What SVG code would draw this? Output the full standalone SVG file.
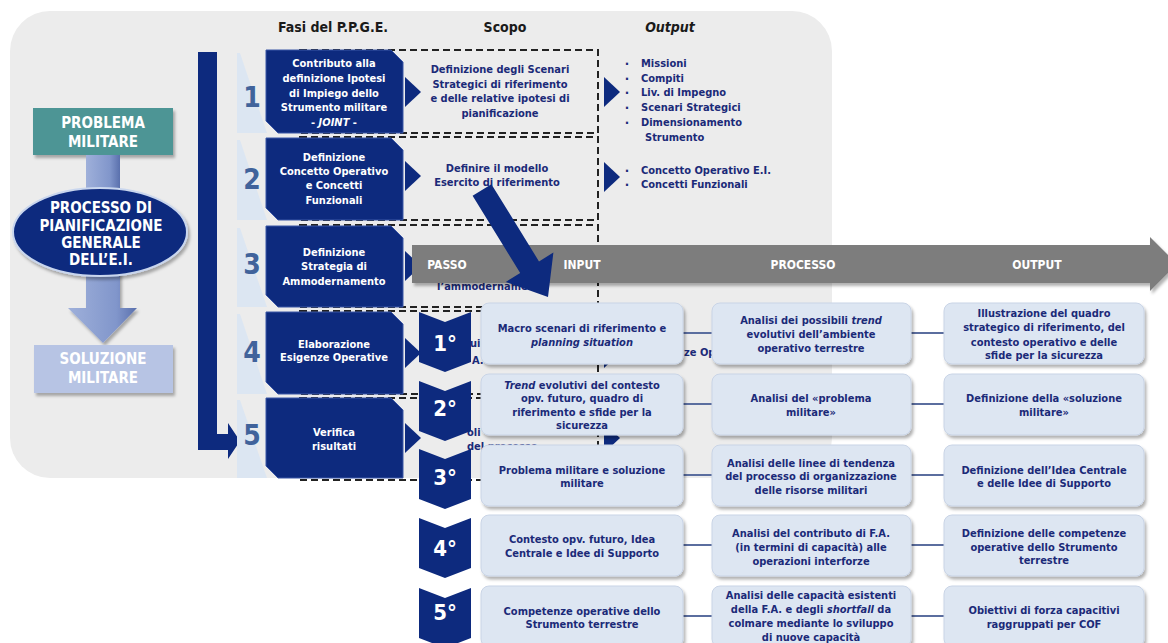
<svg xmlns="http://www.w3.org/2000/svg" width="1168" height="643" viewBox="0 0 1168 643">
<defs>
<style>
.f{font-family:"DejaVu Sans Condensed","DejaVu Sans",sans-serif;font-weight:bold}
.s{font-size:11px;text-anchor:middle}
.l{font-size:11px;text-anchor:start}
.nv{fill:#1b2a78}
.w{fill:#fff}
.hd{font-size:14px;fill:#1a1a1a;text-anchor:middle}
.num{font-size:28px;fill:#41639b;text-anchor:middle}
.big{font-size:15px;fill:#fff;text-anchor:middle}
.ph{fill:#0d2a7e;stroke:#3a56a6;stroke-width:1}
.nav{fill:#0d2a7e}
.wedge{fill:#dce6f2}
.dash{fill:none;stroke:#222;stroke-width:2;stroke-dasharray:7 4}
.box{fill:#dde6f2;stroke:#c9d4e6;stroke-width:1}
.cn{stroke:#5b6e9f;stroke-width:2;fill:none}
.chev{fill:#0d2a7e}
.clab{font-size:22px;fill:#fff;text-anchor:middle}
.th{font-size:12px;fill:#fff;text-anchor:middle}
.bul{font-size:13px;text-anchor:middle}
</style>
<filter id="sh" x="-10%" y="-10%" width="125%" height="140%">
<feDropShadow dx="2" dy="3" stdDeviation="1.5" flood-color="#000" flood-opacity="0.3"/>
</filter>
<linearGradient id="ga" x1="0" y1="0" x2="1" y2="0">
<stop offset="0" stop-color="#9fb0da"/>
<stop offset="0.7" stop-color="#8196cb"/>
<stop offset="1" stop-color="#5a70ad"/>
</linearGradient>
</defs>

<!-- background panel -->
<rect x="10" y="11" width="822" height="467" rx="40" fill="#ececec"/>

<!-- headers -->
<text class="f hd" x="333" y="32">Fasi del P.P.G.E.</text>
<text class="f hd" x="505" y="32">Scopo</text>
<text class="f hd" x="670" y="32" font-style="italic">Output</text>

<!-- left column -->
<g id="problema">
<rect x="33" y="108" width="140" height="47" fill="#4d9595" filter="url(#sh)"/>
<text class="f big" x="103" y="128">PROBLEMA</text>
<text class="f big" x="103" y="147">MILITARE</text>
</g>
<g id="stem">
<rect x="86" y="155" width="34" height="36" fill="url(#ga)"/>
</g>
<g id="downarrow">
<polygon points="86,270 120,270 120,308 137,308 103,343 68,308 86,308" fill="url(#ga)" filter="url(#sh)"/>
</g>
<g id="processo">
<ellipse cx="100" cy="232" rx="87" ry="44" fill="#0d2a7e" stroke="#c9d6ee" stroke-width="2" filter="url(#sh)"/>
<text class="f big" x="101" y="213">PROCESSO DI</text>
<text class="f big" x="101" y="231">PIANIFICAZIONE</text>
<text class="f big" x="101" y="248">GENERALE</text>
<text class="f big" x="101" y="265">DELL’E.I.</text>
</g>
<g id="soluzione">
<rect x="34" y="345" width="139" height="48" fill="#b7c4e4" filter="url(#sh)"/>
<text class="f big" x="103" y="364">SOLUZIONE</text>
<text class="f big" x="103" y="383">MILITARE</text>
</g>

<!-- vertical flow bar -->
<g id="flowbar">
<polygon class="nav" points="198,52 217,52 217,434 228,434 228,423 240,441 228,459 228,450 198,450"/>
</g>

<!-- wedges -->
<g id="wedges">
<polygon class="wedge" points="237,53 240,53 267,133 237,133"/>
<polygon class="wedge" points="237,140 240,140 267,220 237,220"/>
<polygon class="wedge" points="237,228 240,228 267,307 237,307"/>
<polygon class="wedge" points="237,314 240,314 267,394 237,394"/>
<polygon class="wedge" points="237,400 240,400 267,478 237,478"/>
</g>

<!-- dashed scope frames -->
<g id="scopeframes">
<rect class="dash" x="300" y="50" width="298" height="83"/>
<rect class="dash" x="300" y="137" width="298" height="83"/>
<rect class="dash" x="300" y="225" width="298" height="82"/>
<rect class="dash" x="300" y="311" width="298" height="83"/>
<rect class="dash" x="300" y="398" width="298" height="82"/>
</g>

<!-- phases -->
<g id="fase1">
<text class="f num" x="252" y="107">1</text>
<polygon class="ph" points="266,50 391,50 403,62 403,133 278,133 266,121"/>
<text class="f s w" x="334" y="67">Contributo alla</text>
<text class="f s w" x="334" y="82">definizione Ipotesi</text>
<text class="f s w" x="334" y="97">di Impiego dello</text>
<text class="f s w" x="334" y="111">Strumento militare</text>
<text class="f s w" x="334" y="126">- <tspan font-style="italic">JOINT</tspan> -</text>
<polygon class="nav" points="405,77 421,92 405,107"/>
</g>
<g id="fase2">
<text class="f num" x="252" y="189">2</text>
<polygon class="ph" points="266,138 391,138 403,150 403,220 278,220 266,208"/>
<text class="f s w" x="334" y="161">Definizione</text>
<text class="f s w" x="334" y="175">Concetto Operativo</text>
<text class="f s w" x="334" y="189">e Concetti</text>
<text class="f s w" x="334" y="204">Funzionali</text>
<polygon class="nav" points="405,161 421,176 405,191"/>
</g>
<g id="fase3">
<text class="f num" x="252" y="274">3</text>
<polygon class="ph" points="266,226 391,226 403,238 403,307 278,307 266,295"/>
<text class="f s w" x="334" y="256">Definizione</text>
<text class="f s w" x="334" y="270">Strategia di</text>
<text class="f s w" x="334" y="285">Ammodernamento</text>
<polygon class="nav" points="405,251 421,266 405,281"/>
</g>
<g id="fase4">
<text class="f num" x="252" y="362">4</text>
<polygon class="ph" points="266,312 391,312 403,324 403,394 278,394 266,382"/>
<text class="f s w" x="334" y="348">Elaborazione</text>
<text class="f s w" x="334" y="361">Esigenze Operative</text>
<polygon class="nav" points="405,338 421,353 405,368"/>
</g>
<g id="fase5">
<text class="f num" x="252" y="445">5</text>
<polygon class="ph" points="266,398 391,398 403,410 403,478 278,478 266,466"/>
<text class="f s w" x="334" y="436">Verifica</text>
<text class="f s w" x="334" y="450">risultati</text>
<polygon class="nav" points="405,423 421,438 405,453"/>
</g>

<!-- scope texts -->
<g id="scopo1">
<text class="f s nv" x="500" y="73">Definizione degli Scenari</text>
<text class="f s nv" x="500" y="88">Strategici di riferimento</text>
<text class="f s nv" x="500" y="102">e delle relative ipotesi di</text>
<text class="f s nv" x="500" y="117">pianificazione</text>
</g>
<g id="scopo2">
<text class="f s nv" x="497" y="172">Definire il modello</text>
<text class="f s nv" x="497" y="186">Esercito di riferimento</text>
</g>
<g id="scopofrag">
<text class="f l nv" x="437" y="290">l’ammodernamento</text>
<text class="f l nv" x="470" y="347">ui</text>
<text class="f l nv" x="472" y="364">A.</text>
<text class="f l nv" x="467" y="436">oli</text>
<text class="f l nv" x="467" y="450">del processo</text>
</g>

<!-- output column -->
<g id="output1">
<polygon class="nav" points="604,77 620,92 604,107"/>
<text class="f bul nv" x="627" y="68">·</text>
<text class="f l nv" x="641" y="67">Missioni</text>
<text class="f bul nv" x="627" y="83">·</text>
<text class="f l nv" x="641" y="82">Compiti</text>
<text class="f bul nv" x="627" y="97">·</text>
<text class="f l nv" x="641" y="96">Liv. di Impegno</text>
<text class="f bul nv" x="627" y="112">·</text>
<text class="f l nv" x="641" y="111">Scenari Strategici</text>
<text class="f bul nv" x="627" y="127">·</text>
<text class="f l nv" x="641" y="126">Dimensionamento</text>
<text class="f l nv" x="645" y="141">Strumento</text>
</g>
<g id="output2">
<polygon class="nav" points="604,162 620,177 604,192"/>
<text class="f bul nv" x="627" y="175">·</text>
<text class="f l nv" x="641" y="174">Concetto Operativo E.I.</text>
<text class="f bul nv" x="627" y="189">·</text>
<text class="f l nv" x="641" y="188">Concetti Funzionali</text>
</g>
<g id="output345">
<polygon class="nav" points="604,251 620,266 604,281"/>
<polygon class="nav" points="604,338 620,353 604,368"/>
<polygon class="nav" points="604,423 620,438 604,453"/>
<text class="f l nv" x="684" y="356">ze Op</text>
</g>

<!-- process table header arrow -->
<g id="tablehead">
<polygon points="412,245 1150,245 1150,237 1177,264 1150,291 1150,283 412,283" fill="#7d7d7d" filter="url(#sh)"/>
<text class="f th" x="447" y="269">PASSO</text>
<text class="f th" x="582" y="269">INPUT</text>
<text class="f th" x="803" y="269">PROCESSO</text>
<text class="f th" x="1037" y="269">OUTPUT</text>
</g>

<!-- connectors -->
<g id="connectors">
<line class="cn" x1="683" y1="333" x2="712" y2="333"/>
<line class="cn" x1="911" y1="333" x2="944" y2="333"/>
<line class="cn" x1="683" y1="404" x2="712" y2="404"/>
<line class="cn" x1="911" y1="404" x2="944" y2="404"/>
<line class="cn" x1="683" y1="475" x2="712" y2="475"/>
<line class="cn" x1="911" y1="475" x2="944" y2="475"/>
<line class="cn" x1="683" y1="545" x2="712" y2="545"/>
<line class="cn" x1="911" y1="545" x2="944" y2="545"/>
<line class="cn" x1="683" y1="616" x2="712" y2="616"/>
<line class="cn" x1="911" y1="616" x2="944" y2="616"/>
</g>

<!-- steps -->
<g id="passo1">
<polygon class="chev" points="419,312 445,322 471,312 471,362 445,372 419,362"/>
<text class="f clab" x="445" y="351">1°</text>
</g>
<g id="passo2">
<polygon class="chev" points="419,381 445,391 471,381 471,431 445,441 419,431"/>
<text class="f clab" x="445" y="416">2°</text>
</g>
<g id="passo3">
<polygon class="chev" points="419,449 445,459 471,449 471,499 445,509 419,499"/>
<text class="f clab" x="445" y="485">3°</text>
</g>
<g id="passo4">
<polygon class="chev" points="419,518 445,528 471,518 471,568 445,578 419,568"/>
<text class="f clab" x="445" y="556">4°</text>
</g>
<g id="passo5">
<polygon class="chev" points="419,588 445,598 471,588 471,638 445,648 419,638"/>
<text class="f clab" x="445" y="620">5°</text>
</g>

<!-- input boxes -->
<g id="input1">
<rect class="box" x="481" y="303" width="202" height="61" rx="8" filter="url(#sh)"/>
<text class="f s nv" x="582" y="332">Macro scenari di riferimento e</text>
<text class="f s nv" x="582" y="346" font-style="italic">planning situation</text>
</g>
<g id="input2">
<rect class="box" x="481" y="374" width="202" height="61" rx="8" filter="url(#sh)"/>
<text class="f s nv" x="582" y="389"><tspan font-style="italic">Trend</tspan> evolutivi del contesto</text>
<text class="f s nv" x="582" y="402">opv. futuro, quadro di</text>
<text class="f s nv" x="582" y="416">riferimento e sfide per la</text>
<text class="f s nv" x="582" y="429">sicurezza</text>
</g>
<g id="input3">
<rect class="box" x="481" y="445" width="202" height="61" rx="8" filter="url(#sh)"/>
<text class="f s nv" x="582" y="474">Problema militare e soluzione</text>
<text class="f s nv" x="582" y="487">militare</text>
</g>
<g id="input4">
<rect class="box" x="481" y="515" width="202" height="61" rx="8" filter="url(#sh)"/>
<text class="f s nv" x="582" y="543">Contesto opv. futuro, Idea</text>
<text class="f s nv" x="582" y="557">Centrale e Idee di Supporto</text>
</g>
<g id="input5">
<rect class="box" x="481" y="586" width="202" height="61" rx="8" filter="url(#sh)"/>
<text class="f s nv" x="582" y="615">Competenze operative dello</text>
<text class="f s nv" x="582" y="628">Strumento terrestre</text>
</g>

<!-- process boxes -->
<g id="processo1">
<rect class="box" x="712" y="303" width="199" height="61" rx="8" filter="url(#sh)"/>
<text class="f s nv" x="811" y="324">Analisi dei possibili <tspan font-style="italic">trend</tspan></text>
<text class="f s nv" x="811" y="338">evolutivi dell’ambiente</text>
<text class="f s nv" x="811" y="352">operativo terrestre</text>
</g>
<g id="processo2">
<rect class="box" x="712" y="374" width="199" height="61" rx="8" filter="url(#sh)"/>
<text class="f s nv" x="811" y="402">Analisi del «problema</text>
<text class="f s nv" x="811" y="416">militare»</text>
</g>
<g id="processo3">
<rect class="box" x="712" y="445" width="199" height="61" rx="8" filter="url(#sh)"/>
<text class="f s nv" x="811" y="467">Analisi delle linee di tendenza</text>
<text class="f s nv" x="811" y="480">del processo di organizzazione</text>
<text class="f s nv" x="811" y="494">delle risorse militari</text>
</g>
<g id="processo4">
<rect class="box" x="712" y="515" width="199" height="61" rx="8" filter="url(#sh)"/>
<text class="f s nv" x="811" y="537">Analisi del contributo di F.A.</text>
<text class="f s nv" x="811" y="551">(in termini di capacità)  alle</text>
<text class="f s nv" x="811" y="565">operazioni interforze</text>
</g>
<g id="processo5">
<rect class="box" x="712" y="586" width="199" height="61" rx="8" filter="url(#sh)"/>
<text class="f s nv" x="811" y="599">Analisi delle capacità esistenti</text>
<text class="f s nv" x="811" y="613">della F.A. e degli <tspan font-style="italic">shortfall</tspan> da</text>
<text class="f s nv" x="811" y="627">colmare mediante lo sviluppo</text>
<text class="f s nv" x="811" y="641">di nuove capacità</text>
</g>

<!-- output boxes -->
<g id="out1">
<rect class="box" x="944" y="303" width="200" height="61" rx="8" filter="url(#sh)"/>
<text class="f s nv" x="1044" y="317">Illustrazione del quadro</text>
<text class="f s nv" x="1044" y="331">strategico di riferimento, del</text>
<text class="f s nv" x="1044" y="346">contesto operativo e delle</text>
<text class="f s nv" x="1044" y="359">sfide per la sicurezza</text>
</g>
<g id="out2">
<rect class="box" x="944" y="374" width="200" height="61" rx="8" filter="url(#sh)"/>
<text class="f s nv" x="1044" y="402">Definizione della «soluzione</text>
<text class="f s nv" x="1044" y="416">militare»</text>
</g>
<g id="out3">
<rect class="box" x="944" y="445" width="200" height="61" rx="8" filter="url(#sh)"/>
<text class="f s nv" x="1044" y="474">Definizione dell’Idea Centrale</text>
<text class="f s nv" x="1044" y="487">e delle Idee di Supporto</text>
</g>
<g id="out4">
<rect class="box" x="944" y="515" width="200" height="61" rx="8" filter="url(#sh)"/>
<text class="f s nv" x="1044" y="537">Definizione delle competenze</text>
<text class="f s nv" x="1044" y="551">operative dello Strumento</text>
<text class="f s nv" x="1044" y="564">terrestre</text>
</g>
<g id="out5">
<rect class="box" x="944" y="586" width="200" height="61" rx="8" filter="url(#sh)"/>
<text class="f s nv" x="1044" y="614">Obiettivi di forza capacitivi</text>
<text class="f s nv" x="1044" y="628">raggruppati per COF</text>
</g>

<!-- diagonal arrow -->
<g id="diagarrow">
<polygon class="nav" points="491.4,184.2 539,261.4 553.4,252.5 548,297 505.8,281.9 520.2,273 472.6,195.8"/>
</g>
</svg>
